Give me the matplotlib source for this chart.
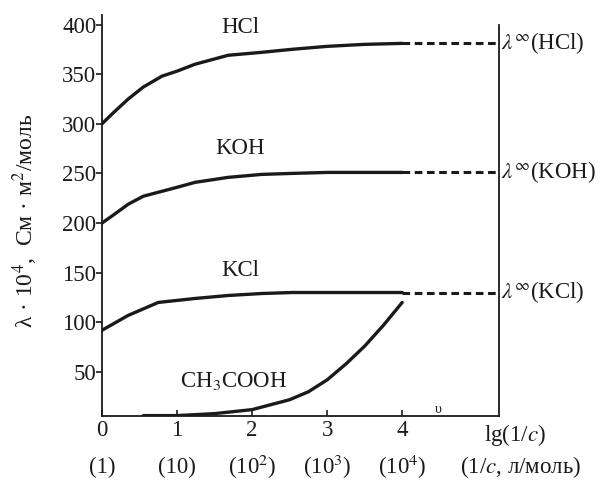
import matplotlib
matplotlib.use("Agg")
from matplotlib import pyplot as plt
import numpy as np

lg_x = [0, 0.15, 0.35, 0.55, 0.8, 1.0, 1.24, 1.68, 2.13, 2.53, 3, 3.5, 4]
hcl = [300, 311, 325, 337, 348, 353, 360, 369, 372, 375, 378, 380, 381]
koh = [200, 208, 219, 227, 232, 236, 241, 246, 249, 250, 251, 251, 251]
kcl_x = [0, 0.35, 0.75, 1.24, 1.68, 2.13, 2.53, 3, 3.5, 4]
kcl = [92, 107, 120, 124, 127, 129, 130, 130, 130, 130]

acid_x = [0.55, 1, 1.5, 2, 2.5, 2.75, 3, 3.25, 3.5, 3.75, 4.0]
acid = [6, 6, 8, 12, 22, 30, 42, 58, 76, 97, 120]

x_end = 5.29
limits = [381, 251, 130]
limit_names = ["HCl", "KOH", "KCl"]

xticks = [0, 1, 2, 3, 4]
xtick_labels = ["0", "1", "2", "3", "4"]
conc_labels = ["(1)", "(10)", "(10$^2$)", "(10$^3$)", "(10$^4$)"]
yticks = [50, 100, 150, 200, 250, 300, 350, 400]

plt.rcParams['font.family'] = ['Liberation Serif', 'DejaVu Serif']
plt.rcParams['mathtext.fontset'] = 'stix'
fs = 16.5

fig = plt.figure(figsize=(6.05, 4.93), dpi=100)
ax = fig.add_axes([0.1686, 0.1562, 0.8248 - 0.1686, 0.9696 - 0.1562])

c = '#1a1a1a'
ax.plot(lg_x, hcl, color=c, lw=2.4, solid_capstyle='round', solid_joinstyle='round')
ax.plot(lg_x, koh, color=c, lw=2.4, solid_capstyle='round', solid_joinstyle='round')
ax.plot(kcl_x, kcl, color=c, lw=2.4, solid_capstyle='round', solid_joinstyle='round')
ax.plot(acid_x, acid, color=c, lw=2.4, solid_capstyle='round', solid_joinstyle='round')

for v, name in zip(limits, limit_names):
    ax.plot([4, x_end], [v, v], color=c, lw=2.2, linestyle=(0, (2.5, 1.5)))
    ax.text(x_end + 0.02, v, r"$\lambda^{\infty}$(" + name + ")", fontsize=fs,
            va='center', ha='left', color=c, clip_on=False)

ax.text(1.84, 397, "HCl", fontsize=fs, ha='center', va='center', color=c)
ax.text(1.84, 275, "KOH", fontsize=fs, ha='center', va='center', color=c)
ax.text(1.84, 152, "KCl", fontsize=fs, ha='center', va='center', color=c)
ax.text(1.75, 41, "CH$_3$COOH", fontsize=fs, ha='center', va='center', color=c)

ax.set_xlim(0, x_end)
ax.set_ylim(5.6, 409.6)
ax.spines['top'].set_visible(False)
for s in ['left', 'bottom', 'right']:
    ax.spines[s].set_linewidth(1.3)
    ax.spines[s].set_color(c)
ax.spines['right'].set_bounds(5.6, 400)

ax.set_yticks(yticks)
ax.set_yticklabels([str(t) for t in yticks], fontsize=fs)
ax.set_xticks(xticks)
ax.set_xticklabels(xtick_labels, fontsize=fs)
ax.tick_params(axis='y', direction='out', length=4, width=1.2, pad=0, colors=c)
ax.tick_params(axis='x', direction='in', length=4, width=1.2, pad=3, colors=c)

trans = ax.get_xaxis_transform()
for xv, lab in zip(xticks, conc_labels):
    ax.text(xv, -0.128, lab, transform=trans, fontsize=fs, ha='center', va='center',
            color=c, clip_on=False)
ax.text(5.5, -0.047, "lg(1/$c$)", transform=trans, fontsize=fs, ha='center',
        va='center', color=c, clip_on=False)
ax.text(5.58, -0.128, "(1/$c$, л/моль)", transform=trans, fontsize=fs, ha='center',
        va='center', color=c, clip_on=False)
ax.text(4.48, 0.0, "υ", transform=trans, fontsize=10, ha='center', va='bottom',
        color=c, clip_on=False)

fig.text(0.041, 0.552, "λ · 10$^4$,  См · м$^2$/моль", rotation=90, fontsize=17,
         ha='center', va='center', color=c)

fig.savefig("out.png", dpi=100)
